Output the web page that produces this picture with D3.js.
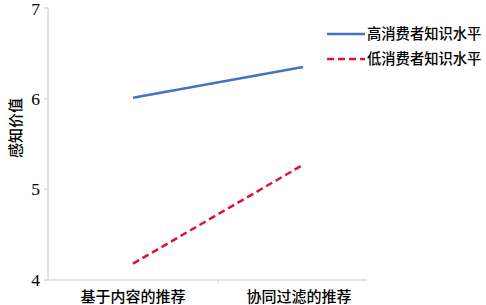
<!DOCTYPE html>
<html><head><meta charset="utf-8">
<script src="https://cdn.jsdelivr.net/npm/d3@7"></script>
<style>body{margin:0;background:#fff}</style>
</head><body>
<svg id="c" width="486" height="305"></svg>
<script>
const categories = ["基于内容的推荐", "协同过滤的推荐"];
const seriesNames = ["高消费者知识水平", "低消费者知识水平"];
const highValues = [6.01, 6.35];
const lowValues = [4.18, 5.27];
const yTicks = [4, 5, 6, 7];
const yTitle = "感知价值";

const svg = d3.select("#c");
const cjk = "'Noto Sans CJK SC', sans-serif";
const serif = "'Liberation Serif', 'Times New Roman', serif";

const x = d3.scaleBand().domain(categories).range([48, 388]);
const y = d3.scaleLinear().domain([4, 7]).range([280, 8]);

// axes
const axisColor = "#d9d9d9";
svg.append("line").attr("x1", 48).attr("x2", 48).attr("y1", y(7)).attr("y2", y(4))
  .attr("stroke", axisColor).attr("stroke-width", 1.5);
svg.append("line").attr("x1", 48).attr("x2", 367).attr("y1", y(4)).attr("y2", y(4))
  .attr("stroke", axisColor).attr("stroke-width", 1.5);
// y ticks
svg.selectAll(".yt").data(yTicks).enter().append("line")
  .attr("x1", 44).attr("x2", 48).attr("y1", d => y(d)).attr("y2", d => y(d))
  .attr("stroke", axisColor).attr("stroke-width", 1.5);
svg.selectAll(".yl").data(yTicks).enter().append("text")
  .attr("x", 40).attr("y", d => y(d) + (d === 7 ? 1 : 0)).attr("dy", "0.35em")
  .attr("text-anchor", "end").attr("font-family", serif).attr("font-size", 17.5)
  .text(d => d);
// x middle tick
svg.append("line").attr("x1", x(categories[1])).attr("x2", x(categories[1]))
  .attr("y1", y(4)).attr("y2", y(4) + 4).attr("stroke", axisColor).attr("stroke-width", 1);
svg.selectAll(".xl").data(categories).enter().append("text")
  .attr("x", (d, i) => x(d) + x.bandwidth() / 2 - (i === 1 ? 4 : 0)).attr("y", 302)
  .attr("text-anchor", "middle").attr("font-family", cjk).attr("font-size", 15)
  .attr("font-weight", 500)
  .text(d => d);
// y title
svg.append("text").attr("transform", "translate(16,128) rotate(-90)")
  .attr("text-anchor", "middle").attr("dy", "0.35em").attr("font-family", cjk).attr("font-size", 15)
  .attr("font-weight", 500)
  .text(yTitle);

const cx = d => x(d) + x.bandwidth() / 2;
const line = d3.line().x(d => cx(d[0])).y(d => y(d[1]));
const series = [
  {name: seriesNames[0], values: highValues, color: "#4472C4", dash: null},
  {name: seriesNames[1], values: lowValues, color: "#E0103C", dash: "7,4"}
];
series.forEach((s, i) => {
  svg.append("path").datum(categories.map((c, j) => [c, s.values[j]]))
    .attr("d", line).attr("fill", "none").attr("stroke", s.color)
    .attr("stroke-width", 2.5).attr("stroke-dasharray", s.dash);
  const ly = 34 + i * 25;
  svg.append("line").attr("x1", 327).attr("x2", 365).attr("y1", ly).attr("y2", ly)
    .attr("stroke", s.color).attr("stroke-width", 2.5).attr("stroke-dasharray", s.dash);
  svg.append("text").attr("x", 367).attr("y", ly).attr("dy", "0.35em")
    .attr("font-family", cjk).attr("font-size", 14.3).attr("font-weight", 500).text(s.name);
});
</script>
</body></html>
